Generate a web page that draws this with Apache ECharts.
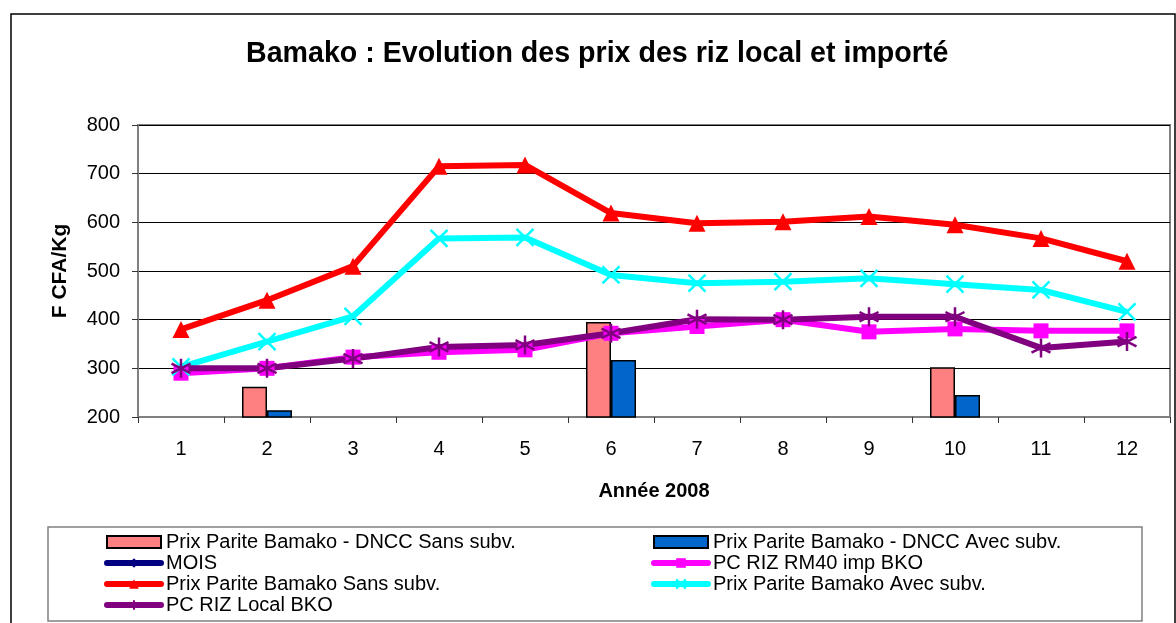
<!DOCTYPE html>
<html>
<head>
<meta charset="utf-8">
<title>Bamako : Evolution des prix des riz local et importé</title>
<script src="https://cdn.jsdelivr.net/npm/echarts@6/dist/echarts.min.js"></script>
<style>
  html, body { margin: 0; padding: 0; background: #fff; }
  #chart { width: 1176px; height: 623px; }
</style>
</head>
<body>
<div id="chart"></div>
<script>
  // months of 2008 (x axis)
  const months = ['1', '2', '3', '4', '5', '6', '7', '8', '9', '10', '11', '12']
  const yTicks = [200, 300, 400, 500, 600, 700, 800]

  // bars: DNCC parity prices (only three months reported)
  const dnccSans = [null, 262, null, null, null, 395, null, null, null, 302, null, null]
  const dnccAvec = [null, 214, null, null, null, 317, null, null, null, 245, null, null]

  // lines
  const mois = [1, 2, 3, 4, 5, 6, 7, 8, 9, 10, 11, 12]
  const rizRm40 = [290, 300, 323, 333, 338, 372, 386, 400, 375, 381, 377, 377]
  const pariteSans = [380, 440, 510, 715, 718, 619, 598, 601, 612, 595, 567, 520]
  const pariteAvec = [303, 355, 407, 567, 569, 492, 475, 478, 485, 473, 461, 416]
  const rizLocal = [300, 300, 320, 344, 348, 372, 401, 400, 406, 406, 342, 355]

  const font = '"Liberation Sans", Arial, sans-serif'
  const xMark = 'path://M0,0L10,10M10,0L0,10'
  const starMark = 'path://M5,0L5,10M0,2.5L10,7.5M0,7.5L10,2.5'

  const mycharts = echarts.init(document.getElementById('chart'))

  // helper for the line series
  function lineSeries(name, data, color, symbol, size, stroke) {
    return {
      name: name,
      type: 'line',
      data: data,
      clip: true,
      symbol: symbol,
      symbolSize: size,
      lineStyle: { color: color, width: 6 },
      itemStyle: stroke
        ? { color: color, borderColor: color, borderWidth: 2.5 }
        : { color: color },
      emphasis: { disabled: true }
    }
  }

  // shared legend look
  function legendBlock(left, items) {
    return {
      orient: 'vertical',
      left: left,
      top: 531.5,
      padding: 0,
      itemWidth: 54,
      itemHeight: 12,
      itemGap: 0,
      selectedMode: false,
      lineStyle: { width: 6, cap: 'round' },
      textStyle: { fontFamily: font, fontSize: 20, lineHeight: 21, color: '#000' },
      data: items
    }
  }

  mycharts.setOption({
    animation: false,
    textStyle: { fontFamily: font },
    title: {
      text: 'Bamako : Evolution des prix des riz local et importé',
      left: 246,
      top: 40,
      padding: 0,
      textStyle: { fontFamily: font, fontSize: 28.6, fontWeight: 'bold', color: '#000' }
    },
    // outer frame + legend frame
    graphic: [
      {
        type: 'rect', silent: true,
        shape: { x: 11, y: 14, width: 1164, height: 640 },
        style: { fill: 'none', stroke: '#000', lineWidth: 1.5 }
      },
      {
        type: 'rect', silent: true,
        shape: { x: 48, y: 527, width: 1094, height: 94 },
        style: { fill: 'none', stroke: '#808080', lineWidth: 1.5 }
      }
    ],
    legend: [
      legendBlock(104, [
        { name: 'Prix Parite Bamako - DNCC Sans subv.', icon: 'rect' },
        'MOIS',
        'Prix Parite Bamako Sans subv.',
        'PC RIZ Local BKO'
      ]),
      legendBlock(651, [
        { name: 'Prix Parite Bamako - DNCC Avec subv.', icon: 'rect' },
        'PC RIZ RM40 imp BKO',
        'Prix Parite Bamako Avec subv.'
      ])
    ],
    grid: {
      left: 138,
      right: 6,
      top: 125,
      bottom: 206,
      show: true,
      borderColor: '#808080',
      borderWidth: 2,
      backgroundColor: '#fff'
    },
    xAxis: {
      type: 'category',
      data: months,
      name: 'Année 2008',
      nameLocation: 'middle',
      nameGap: 64,
      nameTextStyle: { fontFamily: font, fontSize: 20, fontWeight: 'bold', color: '#000' },
      axisLine: { lineStyle: { color: '#808080', width: 2 } },
      axisTick: { show: true, length: 6, lineStyle: { color: '#333' } },
      axisLabel: { fontFamily: font, fontSize: 20, color: '#000', margin: 22 },
      splitLine: { show: false }
    },
    yAxis: {
      type: 'value',
      min: yTicks[0],
      max: yTicks[yTicks.length - 1],
      interval: 100,
      name: 'F CFA/Kg',
      nameLocation: 'middle',
      nameGap: 67,
      nameTextStyle: { fontFamily: font, fontSize: 21, fontWeight: 'bold', color: '#000' },
      axisLine: { show: true, lineStyle: { color: '#808080', width: 2 } },
      axisTick: { show: true, length: 6, lineStyle: { color: '#333' } },
      axisLabel: { fontFamily: font, fontSize: 20, color: '#000', margin: 18 },
      splitLine: { show: true, lineStyle: { color: '#000', width: 1 } }
    },
    series: [
      {
        name: 'Prix Parite Bamako - DNCC Sans subv.',
        type: 'bar',
        data: dnccSans,
        barWidth: 25,
        barGap: '0%',
        itemStyle: { color: '#FF8080', borderColor: '#000', borderWidth: 1.5 },
        emphasis: { disabled: true }
      },
      {
        name: 'Prix Parite Bamako - DNCC Avec subv.',
        type: 'bar',
        data: dnccAvec,
        barWidth: 25,
        barGap: '0%',
        itemStyle: { color: '#0066CC', borderColor: '#000', borderWidth: 1.5 },
        emphasis: { disabled: true }
      },
      lineSeries('MOIS', mois, '#000080', 'diamond', 14, false),
      lineSeries('PC RIZ RM40 imp BKO', rizRm40, '#FF00FF', 'rect', 15, false),
      lineSeries('Prix Parite Bamako Sans subv.', pariteSans, '#FF0000', 'triangle', 17, false),
      lineSeries('Prix Parite Bamako Avec subv.', pariteAvec, '#00FFFF', xMark, 17, true),
      lineSeries('PC RIZ Local BKO', rizLocal, '#800080', starMark, 19, true)
    ]
  })
</script>
</body>
</html>
